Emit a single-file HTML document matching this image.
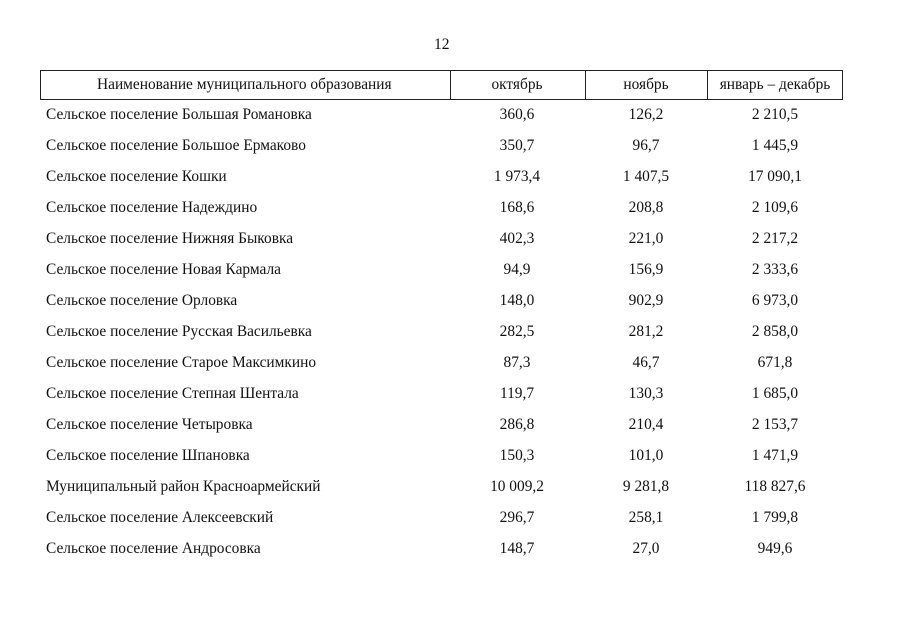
<!DOCTYPE html>
<html><head><meta charset="utf-8"><style>
body{margin:0;width:905px;height:640px;background:#fff;position:relative;font-family:"Liberation Serif",serif;color:#111;font-size:15.4px;overflow:hidden}
.t{position:absolute;white-space:nowrap}
.c{position:absolute;text-align:center;width:140px;white-space:nowrap}
.box{position:absolute;left:40px;top:70px;width:801px;height:28px;border:1px solid #222}
.v{position:absolute;top:70px;height:30px;border-left:1px solid #222}
</style></head><body>
<div class="t" style="left:434px;top:36px;font-size:15.5px">12</div>
<div class="box"></div>
<div class="v" style="left:450px"></div>
<div class="v" style="left:585px"></div>
<div class="v" style="left:707px"></div>
<div class="t" style="left:97px;top:76px">Наименование муниципального образования</div>
<div class="c" style="left:447px;top:76px">октябрь</div>
<div class="c" style="left:576px;top:76px">ноябрь</div>
<div class="c" style="left:705px;top:76px">январь – декабрь</div>
<div id="rows"></div>
<script>
var d=[["Сельское поселение Большая Романовка","360,6","126,2","2 210,5"],
["Сельское поселение Большое Ермаково","350,7","96,7","1 445,9"],
["Сельское поселение Кошки","1 973,4","1 407,5","17 090,1"],
["Сельское поселение Надеждино","168,6","208,8","2 109,6"],
["Сельское поселение Нижняя Быковка","402,3","221,0","2 217,2"],
["Сельское поселение Новая Кармала","94,9","156,9","2 333,6"],
["Сельское поселение Орловка","148,0","902,9","6 973,0"],
["Сельское поселение Русская Васильевка","282,5","281,2","2 858,0"],
["Сельское поселение Старое Максимкино","87,3","46,7","671,8"],
["Сельское поселение Степная Шентала","119,7","130,3","1 685,0"],
["Сельское поселение Четыровка","286,8","210,4","2 153,7"],
["Сельское поселение Шпановка","150,3","101,0","1 471,9"],
["Муниципальный район Красноармейский","10 009,2","9 281,8","118 827,6"],
["Сельское поселение Алексеевский","296,7","258,1","1 799,8"],
["Сельское поселение Андросовка","148,7","27,0","949,6"]];
var h="";
d.forEach(function(r,i){var y=106+i*31;
h+='<div class="t" style="left:46px;top:'+y+'px">'+r[0]+'</div>';
h+='<div class="c" style="left:447px;top:'+y+'px">'+r[1]+'</div>';
h+='<div class="c" style="left:576px;top:'+y+'px">'+r[2]+'</div>';
h+='<div class="c" style="left:705px;top:'+y+'px">'+r[3]+'</div>';});
document.getElementById("rows").innerHTML=h;
</script>
</body></html>
